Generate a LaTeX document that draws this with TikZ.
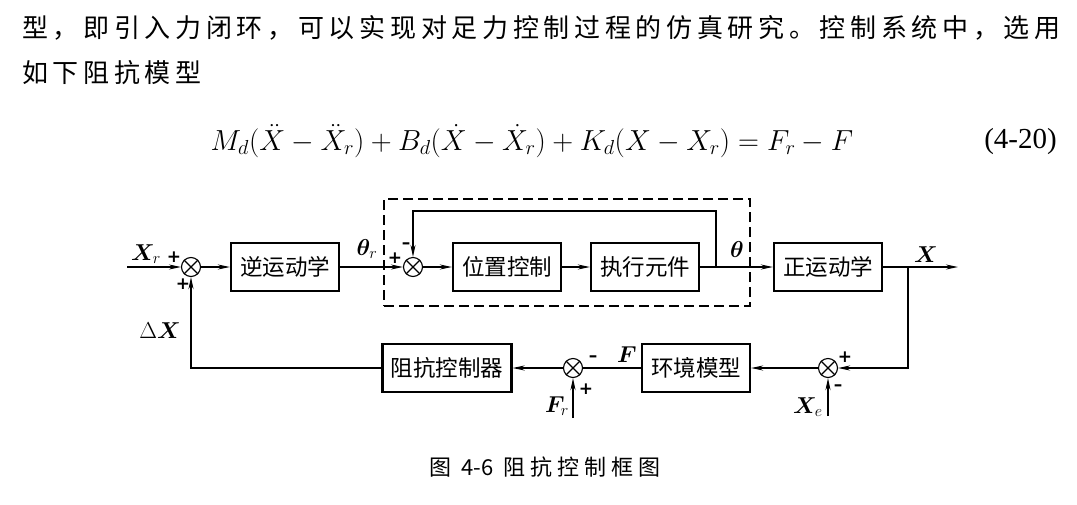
\RequirePackage{fix-cm}
\documentclass[tikz,border=0pt]{standalone}
\usepackage{amsmath}
\usepackage{bm}
\usepackage{fontspec}
\usepackage{tikz}
\usetikzlibrary{arrows.meta,positioning,calc}
\newfontfamily\cjk{Noto Sans CJK SC}
\newfontfamily\cjkwide[LetterSpace=18]{Noto Sans CJK SC}
\newfontfamily\cjkcap[LetterSpace=23]{Noto Sans CJK SC}
\newfontfamily\tnr{Liberation Serif}
\newfontfamily\signfont{DejaVu Sans}

\tikzset{
  block/.style={rectangle, draw, line width=2.2pt, minimum width=108pt, minimum height=48pt, inner sep=0pt, font=\cjk\fontsize{22.5}{26}\selectfont}, % Define the block style
  sumnode/.style={circle, draw, line width=1.1pt, minimum size=19pt, inner sep=0pt}, % Define the summing junction style
  line/.style={draw, line width=1.6pt, -{Stealth[length=12pt,width=5pt]}},
  plain/.style={draw, line width=1.6pt},
  sign/.style={inner sep=0pt, font=\signfont\bfseries\fontsize{17}{17}\selectfont},
  sig/.style={inner sep=0pt, font=\fontsize{23}{26}\selectfont},
  prose/.style={inner sep=0pt, font=\cjkwide\fontsize{26}{30}\selectfont}
}

\begin{document}
\begin{tikzpicture}[x=1pt, y=-1pt]
  \useasboundingbox (0,0) rectangle (1077,504);

  % Text
  \node [prose, anchor=west] (para1) at (22,28) {型，即引入力闭环，可以实现对足力控制过程的仿真研究。控制系统中，选用};
  \node [prose, anchor=west] (para2) at (22,73) {如下阻抗模型};
  \node [inner sep=0pt, font=\fontsize{29}{32}\selectfont] (eq) at (532,141)
    {$M_d(\ddot{X}-\ddot{X}_r)+B_d(\dot{X}-\dot{X}_r)+K_d(X-X_r)=F_r-F$};
  \node [inner sep=0pt, anchor=east, font=\tnr\fontsize{29}{32}\selectfont] (eqnum) at (1057,142) {(4-20)};

  % Nodes
  \node [block] (ik) at (285,267) {逆运动学};
  \node [block] (posctrl) at (507,267) {位置控制};
  \node [block] (actuator) at (645,267) {执行元件};
  \node [block] (fk) at (828,267) {正运动学};
  \node [block] (envmodel) at (696,368) {环境模型};
  \node [block, minimum width=129pt] (impctrl) at (447,368) {阻抗控制器};

  \node [sumnode] (sum1) at (191,267) {};
  \node [sumnode] (sum2) at (413,267) {};
  \node [sumnode] (sum3) at (828,368) {};
  \node [sumnode] (sum4) at (573,368) {};
  \foreach \s in {sum1,sum2,sum3,sum4}{
    \draw[line width=1.1pt] (\s.north west) -- (\s.south east);
    \draw[line width=1.1pt] (\s.north east) -- (\s.south west);
  }

  \node [draw, line width=1.5pt, dash pattern=on 10pt off 5pt, minimum width=366pt, minimum height=107pt] (posloop) at (567,252.5) {};

  \coordinate (xrin) at (127,267);
  \coordinate (thetatap) at (716,267);
  \coordinate (fbtop) at (716,211);
  \coordinate (xtap) at (908,267);
  \coordinate (xout) at (958,267);
  \coordinate (xein) at (828,416);
  \coordinate (frin) at (573,418);

  % Signal labels
  \node [sig] (lxr) at (146,254) {$\bm{X}_r$};
  \node [sig] (lthr) at (367,249) {$\bm{\theta}_r$};
  \node [sig] (lth) at (737,250) {$\bm{\theta}$};
  \node [sig] (lx) at (926,255) {$\bm{X}$};
  \node [sig] (ldx) at (160,331) {$\Delta\bm{X}$};
  \node [sig] (lf) at (627,355) {$\bm{F}$};
  \node [sig] (lfr) at (557,406) {$\bm{F}_r$};
  \node [sig] (lxe) at (808,407) {$\bm{X}_e$};

  % Signs
  \node [sign] at (174,257) {+};
  \node [sign] at (183,284) {+};
  \node [sign] at (395,258) {+};
  \node [sign] at (406,246) {–};
  \node [sign] at (845,357) {+};
  \node [sign] at (838,388) {–};
  \node [sign] at (593,359) {–};
  \node [sign] at (586,389) {+};

  % Arrows
  \draw[line] (xrin) -- (sum1);
  \draw[line] (sum1) -- (ik);
  \draw[line] (ik) -- (sum2);
  \draw[line] (sum2) -- (posctrl);
  \draw[line] (posctrl) -- (actuator);
  \draw[line] (actuator) -- (fk);
  \draw[line] (thetatap) -- (fbtop) -| (sum2.north);
  \draw[line] (fk) -- (xout);
  \draw[line] (xtap) |- (sum3.east);
  \draw[line] (xein) -- (sum3.south);
  \draw[line] (sum3) -- (envmodel);
  \draw[plain] (envmodel) -- (sum4);
  \draw[line] (frin) -- (sum4.south);
  \draw[line] (sum4) -- (impctrl);
  \draw[line] (impctrl.west) -| (sum1.south);

  % Caption
  \node [inner sep=0pt, font=\cjkcap\fontsize{22}{26}\selectfont] (caption) at (545,467) {图 {\cjk 4-6} 阻抗控制框图};

\end{tikzpicture}
\end{document}
